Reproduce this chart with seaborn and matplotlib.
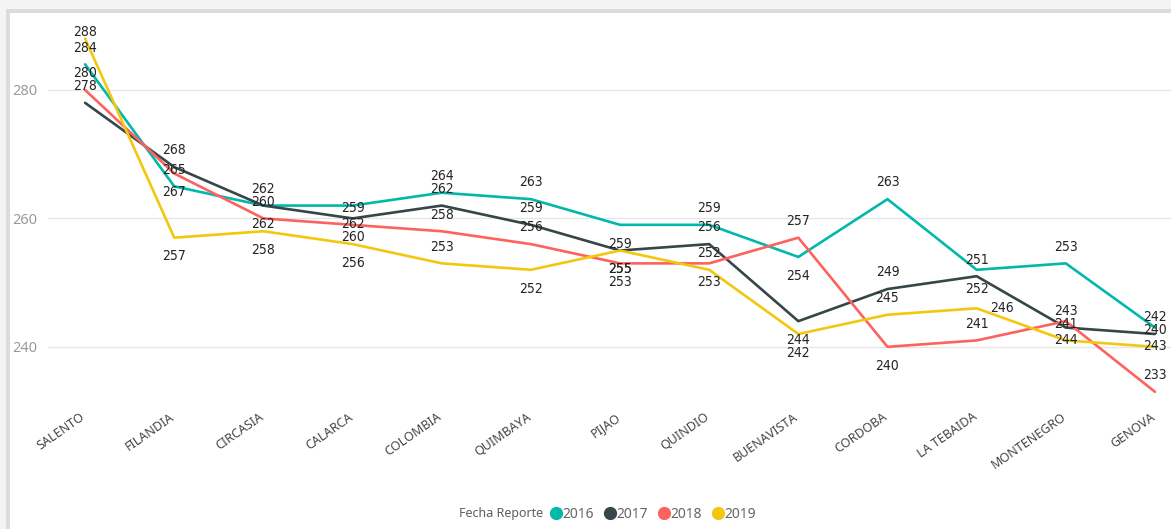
import numpy as np
import pandas as pd
import seaborn as sns
import matplotlib.pyplot as plt
import matplotlib.transforms as mtrans
from matplotlib.lines import Line2D
from matplotlib.patches import Rectangle

municipios = ['SALENTO', 'FILANDIA', 'CIRCASIA', 'CALARCA', 'COLOMBIA', 'QUIMBAYA',
              'PIJAO', 'QUINDIO', 'BUENAVISTA', 'CORDOBA', 'LA TEBAIDA',
              'MONTENEGRO', 'GENOVA']
v2016 = [284, 265, 262, 262, 264, 263, 259, 259, 254, 263, 252, 253, 243]
v2017 = [278, 268, 262, 260, 262, 259, 255, 256, 244, 249, 251, 243, 242]
v2018 = [280, 267, 260, 259, 258, 256, 253, 253, 257, 240, 241, 244, 233]
v2019 = [288, 257, 258, 256, 253, 252, 255, 252, 242, 245, 246, 241, 240]
years = ['2016', '2017', '2018', '2019']
colors = ['#01B8AA', '#374649', '#FD625E', '#F2C80F']
# where each data label sits: a = above, b = below, r = right, t = squeezed at top
lbl_pos = {
    '2016': 'aaabaabababab',
    '2017': 'aabbaababaaaa',
    '2018': 'abaaaabbababa',
    '2019': 'tbbbabbabaraa',
}

df = pd.DataFrame({'Municipio': municipios * 4,
                   'Fecha Reporte': np.repeat(years, len(municipios)),
                   'Valor': v2016 + v2017 + v2018 + v2019})

sns.set_style('white')
plt.rcParams['font.family'] = ['Noto Sans', 'DejaVu Sans']

fig = plt.figure(figsize=(11.71, 5.29), dpi=100)
W, H = 1171, 529
fig.patch.set_facecolor('#f5f4f2')
# report frame
fig.patches.append(Rectangle((6 / W, 0), 1, 1 - 9 / H, transform=fig.transFigure,
                             facecolor='#dcdcdc', edgecolor='none', zorder=-10))
fig.patches.append(Rectangle((10 / W, 0), 1, 1 - 13 / H, transform=fig.transFigure,
                             facecolor='white', edgecolor='none', zorder=-9))

ax = fig.add_axes([48 / W, 1 - 395 / H, 1 - 48 / W, (395 - 20) / H])
ax.set_facecolor('none')

sns.lineplot(data=df, x='Municipio', y='Valor', hue='Fecha Reporte',
             palette=colors, linewidth=1.9, legend=False, ax=ax, sort=False)

ax.set_xlim(-0.416, 12.18)
ax.set_ylim(232.5, 290.9)
ax.set_yticks([240, 260, 280])
ax.grid(axis='y', color='#e6e6e6', linewidth=1)
ax.grid(axis='x', visible=False)
ax.set_axisbelow(True)
for s in ax.spines.values():
    s.set_visible(False)
ax.tick_params(axis='y', length=0, labelsize=10.5, labelcolor='#9a9a9a', pad=8)
ax.tick_params(axis='x', length=0, labelsize=9, labelcolor='#444444', pad=11)
ax.set_xticks(range(len(municipios)))
ax.set_xticklabels(municipios, rotation=35, ha='right', rotation_mode='anchor')
shift = mtrans.ScaledTranslation(-5 / 100, 0, fig.dpi_scale_trans)
for lab in ax.get_xticklabels():
    lab.set_transform(lab.get_transform() + shift)
ax.set_xlabel('')
ax.set_ylabel('')

series = {'2016': v2016, '2017': v2017, '2018': v2018, '2019': v2019}
offsets = {'a': (0, 12), 'b': (0, -13.5), 'r': (18, 0), 't': (0, 4.5)}
for yr in years:
    for i, v in enumerate(series[yr]):
        ax.annotate(str(v), (i, v), xytext=offsets[lbl_pos[yr][i]],
                    textcoords='offset points', ha='center', va='center',
                    fontsize=10, color='#252423', family='DejaVu Sans',
                    fontstretch='condensed', annotation_clip=False)

fig.text(543 / W, 1 - 514 / H, 'Fecha Reporte', ha='right', va='center',
         fontsize=9, fontweight='semibold', color='#605e5c')
handles = [Line2D([], [], linestyle='none', marker='o', markersize=8.5,
                  markerfacecolor=c, markeredgecolor=c) for c in colors]
fig.legend(handles, years, loc='center left', bbox_to_anchor=(544 / W, 1 - 514 / H),
           ncol=4, frameon=False, handlelength=0.7, handletextpad=0.1,
           columnspacing=0.82, borderpad=0, fontsize=10, labelcolor='#666666')

fig.savefig('out.png', dpi=100, facecolor=fig.get_facecolor())
